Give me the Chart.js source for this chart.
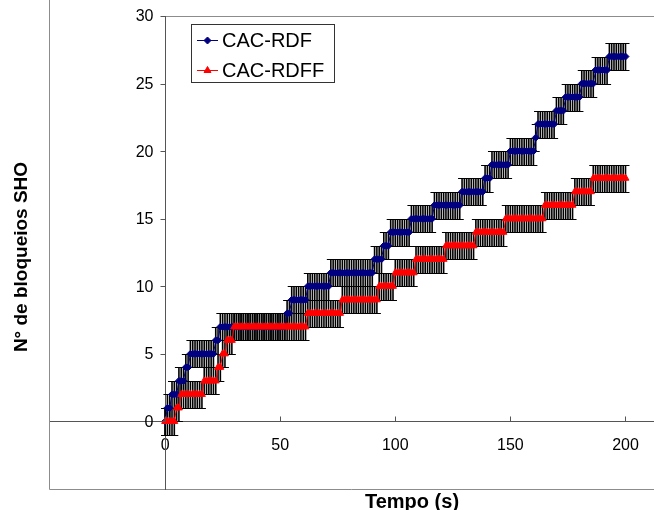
<!DOCTYPE html>
<html>
<head>
<meta charset="utf-8">
<script src="https://cdn.jsdelivr.net/npm/chart.js@4/dist/chart.umd.min.js"></script>
<style>
  body { margin: 0; background: #fff; }
  canvas { display: block; }
</style>
</head>
<body>
<canvas id="grafico" width="654" height="510"></canvas>
<script>
// tempo (s), uma amostra por segundo
var tempo = [
    0, 1, 2, 3, 4, 5, 6, 7, 8, 9, 10, 11, 12, 13, 14, 15, 16, 17, 18, 19,
    20, 21, 22, 23, 24, 25, 26, 27, 28, 29, 30, 31, 32, 33, 34, 35, 36, 37, 38, 39,
    40, 41, 42, 43, 44, 45, 46, 47, 48, 49, 50, 51, 52, 53, 54, 55, 56, 57, 58, 59,
    60, 61, 62, 63, 64, 65, 66, 67, 68, 69, 70, 71, 72, 73, 74, 75, 76, 77, 78, 79,
    80, 81, 82, 83, 84, 85, 86, 87, 88, 89, 90, 91, 92, 93, 94, 95, 96, 97, 98, 99,
    100, 101, 102, 103, 104, 105, 106, 107, 108, 109, 110, 111, 112, 113, 114, 115, 116, 117, 118, 119,
    120, 121, 122, 123, 124, 125, 126, 127, 128, 129, 130, 131, 132, 133, 134, 135, 136, 137, 138, 139,
    140, 141, 142, 143, 144, 145, 146, 147, 148, 149, 150, 151, 152, 153, 154, 155, 156, 157, 158, 159,
    160, 161, 162, 163, 164, 165, 166, 167, 168, 169, 170, 171, 172, 173, 174, 175, 176, 177, 178, 179,
    180, 181, 182, 183, 184, 185, 186, 187, 188, 189, 190, 191, 192, 193, 194, 195, 196, 197, 198, 199,
    200
];

var bloqueiosRDF = [
    0, 1, 1, 2, 2, 2, 3, 3, 3, 4,
    4, 5, 5, 5, 5, 5, 5, 5, 5, 5,
    5, 5, 6, 6, 7, 7, 7, 7, 7, 7,
    7, 7, 7, 7, 7, 7, 7, 7, 7, 7,
    7, 7, 7, 7, 7, 7, 7, 7, 7, 7,
    7, 7, 7, 8, 8, 9, 9, 9, 9, 9,
    9, 9, 10, 10, 10, 10, 10, 10, 10, 10,
    10, 10, 11, 11, 11, 11, 11, 11, 11, 11,
    11, 11, 11, 11, 11, 11, 11, 11, 11, 11,
    11, 12, 12, 12, 12, 13, 13, 13, 14, 14,
    14, 14, 14, 14, 14, 14, 14, 15, 15, 15,
    15, 15, 15, 15, 15, 15, 15, 16, 16, 16,
    16, 16, 16, 16, 16, 16, 16, 16, 16, 17,
    17, 17, 17, 17, 17, 17, 17, 17, 17, 18,
    18, 18, 19, 19, 19, 19, 19, 19, 19, 19,
    20, 20, 20, 20, 20, 20, 20, 20, 20, 20,
    20, 21, 22, 22, 22, 22, 22, 22, 22, 22,
    23, 23, 23, 23, 24, 24, 24, 24, 24, 24,
    24, 25, 25, 25, 25, 25, 25, 26, 26, 26,
    26, 26, 26, 27, 27, 27, 27, 27, 27, 27,
    27
];

var bloqueiosRDFF = [
    0, 0, 0, 0, 0, 1, 1, 2, 2, 2,
    2, 2, 2, 2, 2, 2, 2, 3, 3, 3,
    3, 3, 3, 4, 4, 5, 5, 6, 6, 6,
    7, 7, 7, 7, 7, 7, 7, 7, 7, 7,
    7, 7, 7, 7, 7, 7, 7, 7, 7, 7,
    7, 7, 7, 7, 7, 7, 7, 7, 7, 7,
    7, 7, 8, 8, 8, 8, 8, 8, 8, 8,
    8, 8, 8, 8, 8, 8, 8, 9, 9, 9,
    9, 9, 9, 9, 9, 9, 9, 9, 9, 9,
    9, 9, 9, 10, 10, 10, 10, 10, 10, 10,
    11, 11, 11, 11, 11, 11, 11, 11, 11, 12,
    12, 12, 12, 12, 12, 12, 12, 12, 12, 12,
    12, 12, 13, 13, 13, 13, 13, 13, 13, 13,
    13, 13, 13, 13, 13, 14, 14, 14, 14, 14,
    14, 14, 14, 14, 14, 14, 14, 14, 15, 15,
    15, 15, 15, 15, 15, 15, 15, 15, 15, 15,
    15, 15, 15, 15, 15, 16, 16, 16, 16, 16,
    16, 16, 16, 16, 16, 16, 16, 16, 17, 17,
    17, 17, 17, 17, 17, 17, 18, 18, 18, 18,
    18, 18, 18, 18, 18, 18, 18, 18, 18, 18,
    18
];

var erroPadrao = 1; // barras de erro +/- 1 bloqueio
var rotulos = ['CAC-RDF', 'CAC-RDFF'];
var ticksX = [0, 50, 100, 150, 200];
var ticksY = [0, 5, 10, 15, 20, 25, 30];

var fonte = "'Liberation Sans', Arial, sans-serif";

function pontos(valores) {
    return valores.map(function (v, i) { return { x: tempo[i], y: v }; });
}

// barras de erro desenhadas com as escalas do grafico
var barrasErro = {
    id: 'barrasErro',
    beforeDatasetsDraw: function (chart) {
        var ctx = chart.ctx;
        var sx = chart.scales.x, sy = chart.scales.y;
        ctx.save();
        ctx.strokeStyle = '#000';
        chart.data.datasets.forEach(function (ds) {
            ds.data.forEach(function (p) {
                var px = sx.getPixelForValue(p.x);
                var top = Math.round(sy.getPixelForValue(p.y + erroPadrao)) + 0.5;
                var bot = Math.round(sy.getPixelForValue(p.y - erroPadrao)) + 0.5;
                ctx.lineWidth = 1.6;
                ctx.beginPath();
                ctx.moveTo(px, top); ctx.lineTo(px, bot);
                ctx.stroke();
                ctx.lineWidth = 1;
                ctx.beginPath();
                ctx.moveTo(px - 4, top); ctx.lineTo(px + 4, top);
                ctx.moveTo(px - 4, bot); ctx.lineTo(px + 4, bot);
                ctx.stroke();
            });
        });
        ctx.restore();
    }
};

// moldura, marcas e rotulos dos eixos, titulos e legenda
var extras = {
    id: 'extras',
    beforeDraw: function (chart) {
        var ctx = chart.ctx;
        var a = chart.chartArea;
        var x0 = chart.scales.x.getPixelForValue(0);
        ctx.save();
        ctx.strokeStyle = '#8c8c8c';
        ctx.lineWidth = 1;
        ctx.beginPath();
        ctx.moveTo(a.left - 0.5, 0); ctx.lineTo(a.left - 0.5, a.bottom + 0.5);
        ctx.lineTo(654, a.bottom + 0.5);
        ctx.moveTo(x0, a.top + 0.5); ctx.lineTo(654, a.top + 0.5);
        ctx.stroke();
        ctx.restore();
    },
    afterDraw: function (chart) {
        var ctx = chart.ctx;
        var a = chart.chartArea;
        var sx = chart.scales.x, sy = chart.scales.y;
        ctx.save();
        ctx.strokeStyle = '#555';
        ctx.lineWidth = 1;
        var yEixo = Math.round(sy.getPixelForValue(0)) + 0.5;
        var xEixo = Math.round(sx.getPixelForValue(0)) + 0.5;
        ctx.beginPath();
        // prolonga o eixo x ate a borda
        ctx.moveTo(a.right, yEixo); ctx.lineTo(654, yEixo);
        ticksX.forEach(function (t) {
            var px = Math.round(sx.getPixelForValue(t)) + 0.5;
            ctx.moveTo(px, yEixo); ctx.lineTo(px, yEixo - 5);
        });
        ticksY.forEach(function (t) {
            var py = Math.round(sy.getPixelForValue(t)) + 0.5;
            ctx.moveTo(xEixo, py); ctx.lineTo(xEixo - 5, py);
        });
        ctx.stroke();

        ctx.fillStyle = '#000';
        ctx.font = '16px ' + fonte;
        ctx.textAlign = 'right';
        ctx.textBaseline = 'middle';
        ticksY.forEach(function (t) {
            ctx.fillText(String(t), xEixo - 12, sy.getPixelForValue(t) + 1);
        });

        // titulos
        ctx.font = 'bold 20px ' + fonte;
        ctx.textAlign = 'center';
        ctx.textBaseline = 'alphabetic';
        ctx.fillText('Tempo (s)', 412, 508);
        ctx.translate(27, 257);
        ctx.rotate(-Math.PI / 2);
        ctx.font = 'bold 19px ' + fonte;
        ctx.fillText('N° de bloqueios SHO', 0, 0);
        ctx.restore();

        // legenda
        ctx.save();
        ctx.fillStyle = '#fff';
        ctx.fillRect(191, 24, 144, 59);
        ctx.strokeStyle = '#333';
        ctx.lineWidth = 1;
        ctx.strokeRect(191.5, 24.5, 143, 58);
        chart.data.datasets.forEach(function (ds, i) {
            var ly = 40 + i * 30;
            ctx.strokeStyle = ds.borderColor;
            ctx.fillStyle = ds.backgroundColor;
            ctx.lineWidth = 1;
            ctx.beginPath();
            ctx.moveTo(197, ly + 0.5); ctx.lineTo(218, ly + 0.5);
            ctx.stroke();
            Chart.helpers.drawPoint(ctx, {
                pointStyle: ds.pointStyle, radius: ds.pointRadius, borderWidth: 1
            }, 207.5, ly + 0.5);
            ctx.fillStyle = '#000';
            ctx.font = '20px ' + fonte;
            ctx.textAlign = 'left';
            ctx.textBaseline = 'middle';
            ctx.fillText(ds.label, 222, ly + 1);
        });
        ctx.restore();
    }
};

var ctx = document.getElementById('grafico').getContext('2d');
var chart = new Chart(ctx, {
    type: 'line',
    data: {
        datasets: [{
            label: rotulos[0],
            data: pontos(bloqueiosRDF),
            borderColor: '#000080',
            backgroundColor: '#000080',
            borderWidth: 1,
            pointStyle: 'rectRot',
            pointRadius: 3.5,
            pointBorderWidth: 1,
            order: 1
        }, {
            label: rotulos[1],
            data: pontos(bloqueiosRDFF),
            borderColor: '#ff0000',
            backgroundColor: '#ff0000',
            borderWidth: 1,
            pointStyle: 'triangle',
            pointRadius: 4,
            pointBorderWidth: 1,
            order: 0
        }]
    },
    options: {
        responsive: false,
        animation: false,
        layout: { padding: { left: 50, top: 16, right: 0, bottom: 21 } },
        plugins: {
            legend: { display: false },
            tooltip: { enabled: false }
        },
        scales: {
            x: {
                type: 'linear',
                min: -50,
                max: 208,
                position: { y: 0 },
                grid: { drawOnChartArea: false, drawTicks: false },
                border: { color: '#555', width: 1 },
                afterBuildTicks: function (scale) {
                    scale.ticks = ticksX.map(function (v) { return { value: v }; });
                },
                ticks: {
                    color: '#000',
                    padding: 15,
                    maxRotation: 0,
                    font: { family: fonte, size: 16 }
                }
            },
            y: {
                type: 'linear',
                min: -5,
                max: 30,
                position: { x: 0 },
                grid: { drawOnChartArea: false, drawTicks: false },
                border: { color: '#555', width: 1 },
                ticks: { display: false }
            }
        }
    },
    plugins: [barrasErro, extras]
});
</script>
</body>
</html>
